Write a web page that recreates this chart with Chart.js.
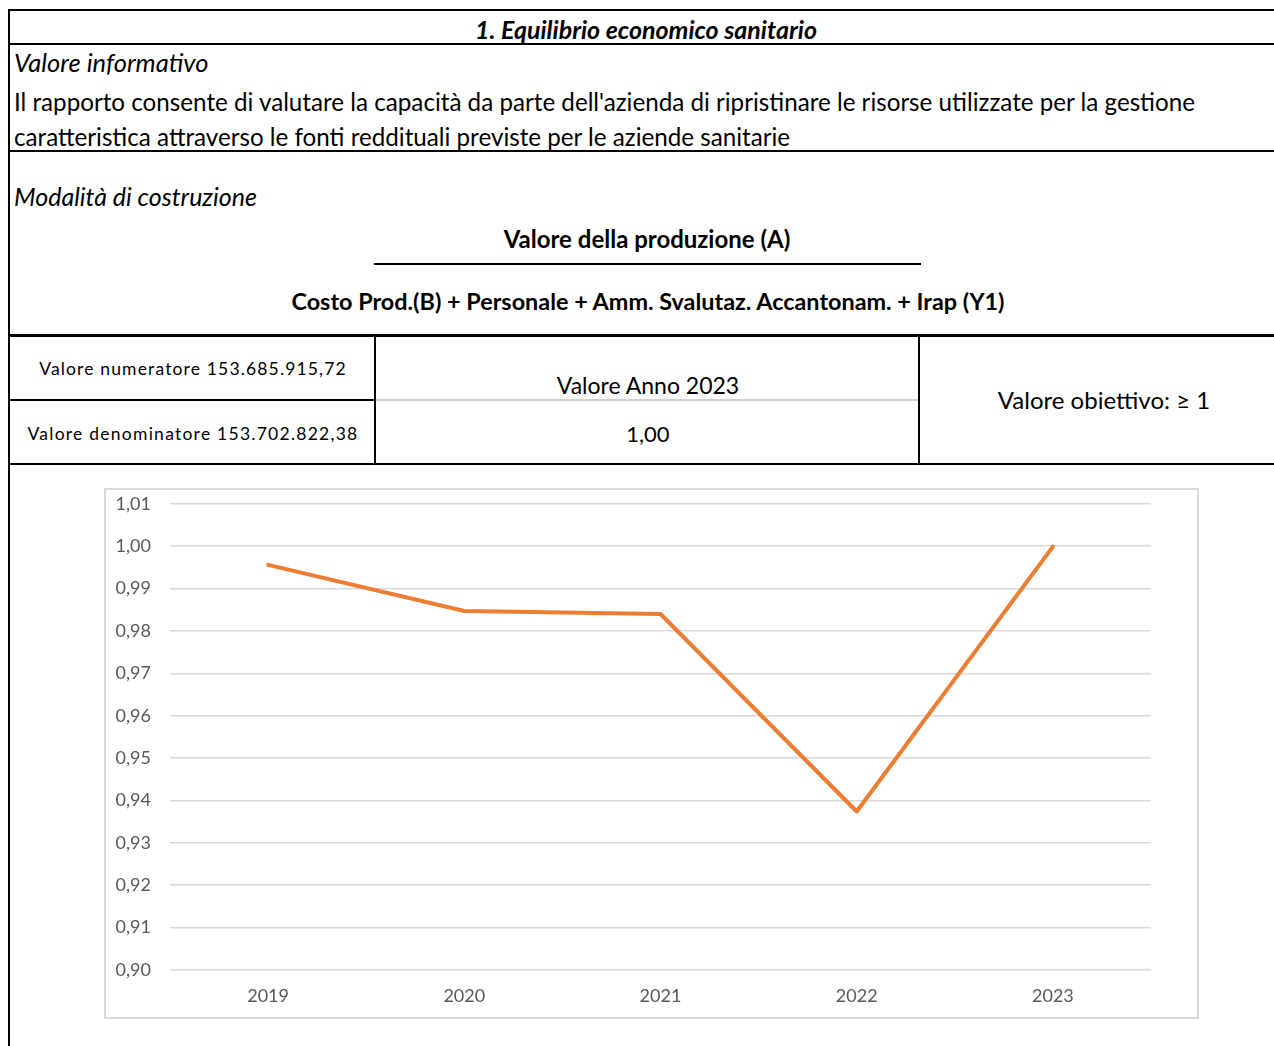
<!DOCTYPE html>
<html lang="it">
  <head>
    <meta charset="UTF-8" />
    <title>Equilibrio economico sanitario</title>
    <script src="https://cdn.jsdelivr.net/npm/chart.js"></script>
    <style>
      body {
        margin: 0;
        width: 1274px;
        height: 1046px;
        background: #fff;
        font-family: Lato, "Open Sans", sans-serif;
        color: #000;
        position: relative;
        overflow: hidden;
      }
      .t {
        position: absolute;
        white-space: nowrap;
        line-height: 1;
      }
      .c {
        transform: translate(-50%, -50%);
      }
      .l {
        transform: translateY(-50%);
      }
      .hl {
        position: absolute;
        height: 2px;
        background: #000;
      }
      .vl {
        position: absolute;
        width: 2px;
        background: #000;
      }
      #box {
        position: absolute;
        left: 104px;
        top: 488px;
        width: 1091px;
        height: 527px;
        border: 2px solid #d9d9d9;
        overflow: hidden;
      }
      #chart {
        position: absolute;
        left: 0;
        top: -16px;
      }
    </style>
  </head>
  <body>
    <!-- griglia del foglio -->
    <div class="vl" style="left: 8px; top: 9px; height: 1037px"></div>
    <div class="hl" style="left: 8px; top: 9px; width: 1266px"></div>
    <div class="hl" style="left: 8px; top: 43px; width: 1266px"></div>
    <div class="hl" style="left: 8px; top: 150px; width: 1266px"></div>
    <div class="hl" style="left: 8px; top: 334px; width: 1266px; height: 3px"></div>
    <div class="hl" style="left: 8px; top: 399px; width: 368px"></div>
    <div class="hl" style="left: 376px; top: 399px; width: 543px; background: #d0d0d0"></div>
    <div class="hl" style="left: 8px; top: 463px; width: 1266px"></div>
    <div class="vl" style="left: 374px; top: 335px; height: 129px"></div>
    <div class="vl" style="left: 918px; top: 335px; height: 129px"></div>
    <div class="hl" style="left: 374px; top: 263px; width: 547px"></div>

    <!-- testi -->
    <div class="t c" style="left: 646px; top: 29px; font-size: 25px; font-weight: bold; font-style: italic">
      1. Equilibrio economico sanitario
    </div>
    <div class="t l" style="left: 14px; top: 63px; font-size: 25.5px; font-style: italic">Valore informativo</div>
    <div class="t l" style="left: 14px; top: 102px; font-size: 24.2px">
      Il rapporto consente di valutare la capacità da parte dell'azienda di ripristinare le risorse utilizzate per la gestione
    </div>
    <div class="t l" style="left: 14px; top: 137px; font-size: 24.2px">
      caratteristica attraverso le fonti reddituali previste per le aziende sanitarie
    </div>
    <div class="t l" style="left: 14px; top: 196px; font-size: 25px; font-style: italic">Modalità di costruzione</div>
    <div class="t c" style="left: 647px; top: 239px; font-size: 24px; font-weight: bold">Valore della produzione (A)</div>
    <div class="t c" style="left: 648px; top: 302px; font-size: 23.4px; font-weight: bold">
      Costo Prod.(B) + Personale + Amm. Svalutaz. Accantonam. + Irap (Y1)
    </div>
    <div class="t c" style="left: 193px; top: 369px; font-size: 17.5px; letter-spacing: 1.15px">
      Valore numeratore 153.685.915,72
    </div>
    <div class="t c" style="left: 193px; top: 434px; font-size: 17.5px; letter-spacing: 1.25px">
      Valore denominatore 153.702.822,38
    </div>
    <div class="t c" style="left: 648px; top: 385px; font-size: 23px">Valore Anno 2023</div>
    <div class="t c" style="left: 648px; top: 434px; font-size: 22px">1,00</div>
    <div class="t c" style="left: 1104px; top: 400px; font-size: 24px">Valore obiettivo: ≥ 1</div>

    <div id="box"><canvas id="chart" width="1091" height="543"></canvas></div>

    <script>
      // dati del grafico
      const anni = ["2019", "2020", "2021", "2022", "2023"];
      const valori = [0.9956, 0.9847, 0.984, 0.9374, 0.9999];
      const yMin = 0.9;
      const yMax = 1.01;
      const yStep = 0.01;

      const ctx = document.getElementById("chart").getContext("2d");
      new Chart(ctx, {
        type: "line",
        data: {
          labels: anni,
          datasets: [
            {
              label: "Equilibrio economico sanitario",
              data: valori,
              borderColor: "#ED7D31",
              backgroundColor: "#ED7D31",
              borderWidth: 4,
              pointRadius: 0,
              tension: 0,
              borderCapStyle: "round",
              borderJoinStyle: "round",
            },
          ],
        },
        options: {
          responsive: false,
          animation: false,
          layout: {
            padding: { left: 0, right: 46, top: 0, bottom: 0 },
          },
          plugins: {
            legend: { display: false },
            tooltip: { enabled: false },
          },
          scales: {
            x: {
              offset: true,
              grid: { display: false },
              border: { display: false },
              ticks: {
                color: "#595959",
                padding: 7,
                font: { family: "Lato", size: 18 },
              },
              afterFit: function (scale) {
                scale.height = 47;
              },
            },
            y: {
              min: yMin,
              max: yMax,
              grid: { color: "#d9d9d9", lineWidth: 1.5, drawTicks: false },
              border: { display: false },
              ticks: {
                stepSize: yStep,
                color: "#595959",
                padding: 19,
                font: { family: "Lato", size: 18 },
                callback: function (v) {
                  return v.toFixed(2).replace(".", ",");
                },
              },
              afterFit: function (scale) {
                scale.width = 64;
              },
            },
          },
        },
      });
    </script>
  </body>
</html>
